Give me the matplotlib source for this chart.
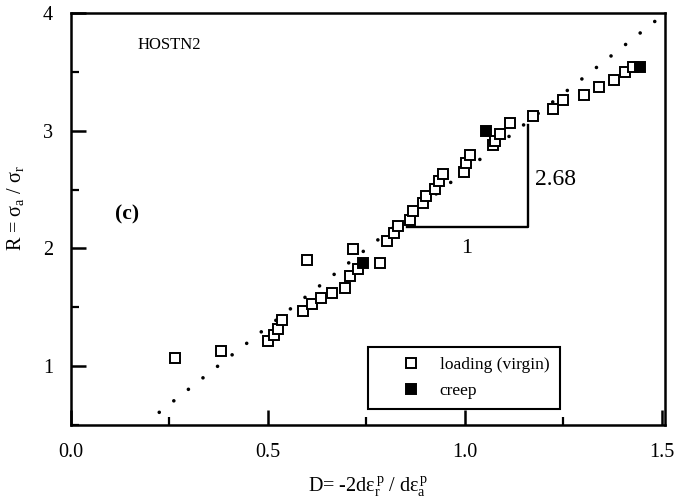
import matplotlib.pyplot as plt
from matplotlib.lines import Line2D
from matplotlib.ticker import MultipleLocator

plt.rcParams['font.family'] = ['Liberation Serif', 'DejaVu Serif']
plt.rcParams['mathtext.fontset'] = 'stix'

# loading (virgin) points: D, R
load_d = [0.264, 0.381, 0.501, 0.515, 0.525, 0.535, 0.589, 0.611, 0.600, 0.634,
          0.663, 0.695, 0.708, 0.729, 0.717, 0.784, 0.801, 0.821, 0.829, 0.860,
          0.869, 0.893, 0.901, 0.924, 0.935, 0.945, 0.997, 1.003, 1.013, 1.072,
          1.076, 1.089, 1.114, 1.173, 1.224, 1.250, 1.303, 1.341, 1.379, 1.406,
          1.426]
load_r = [1.073, 1.132, 1.216, 1.261, 1.320, 1.394, 1.467, 1.526, 1.904, 1.583,
          1.622, 1.667, 1.766, 1.828, 1.997, 1.878, 2.067, 2.132, 2.194, 2.244,
          2.315, 2.383, 2.447, 2.504, 2.574, 2.636, 2.653, 2.729, 2.791, 2.876,
          2.912, 2.969, 3.062, 3.123, 3.186, 3.259, 3.307, 3.372, 3.434, 3.499,
          3.538]

# creep points
creep_d = [0.742, 1.053, 1.444]
creep_r = [1.878, 2.997, 3.538]

# fitted line (slope 2.68) end points
fit_d = [0.224, 1.486]
fit_r = [0.608, 3.94]

# slope triangle
tri_d = [0.852, 1.161, 1.161]
tri_r = [2.185, 2.185, 3.053]

fig = plt.figure(figsize=(6.78, 5.03), dpi=100)
ax = fig.add_axes([0.1047, 0.155, 0.8763, 0.819])

ax.plot(fit_d, fit_r, color='black', lw=2.6, linestyle=(0, (0.01, 5.13)),
        dash_capstyle='round')
ax.plot(load_d, load_r, 's', ms=6.5, mfc='white', mec='black', mew=1.4,
        linestyle='none')
ax.plot(creep_d, creep_r, 's', ms=6.5, mfc='black', mec='black', mew=1.4,
        linestyle='none')
ax.plot(tri_d, tri_r, color='black', lw=1.7)

ax.text(1.178, 2.585, '2.68', fontsize=17, va='center', ha='left')
ax.text(1.005, 2.0, '1', fontsize=16, va='center', ha='center')
ax.text(0.112, 2.29, '(c)', fontsize=15.5, fontweight='bold', va='center')
ax.text(0.168, 3.73, 'HOSTN2', fontsize=12, va='center')

ax.set_xlim(0, 1.508)
ax.set_ylim(0.5, 4)
ax.xaxis.set_minor_locator(MultipleLocator(0.25))
ax.yaxis.set_minor_locator(MultipleLocator(0.5))
ax.set_xticks([0, 0.5, 1.0, 1.5])
ax.set_xticklabels(['0.0', '0.5', '1.0', '1.5'])
ax.set_yticks([1, 2, 3, 4])
ax.set_yticklabels(['1', '2', '3', '4'])
ax.tick_params(which='major', direction='in', length=11, width=1.8,
               labelsize=14.5, pad=13)
ax.tick_params(which='minor', direction='in', length=6, width=1.6)
ax.tick_params(top=False, right=False, which='both')
for s in ax.spines.values():
    s.set_linewidth(1.8)

ax.set_xlabel(r'D= -2dε$\mathregular{_r^{\,p}}$ / dε$\mathregular{_a^{\,p}}$',
              fontsize=14.5, labelpad=9)
ax.set_ylabel(r'R = σ$\mathregular{_a}$ / σ$\mathregular{_r}$', fontsize=14.5)
ax.yaxis.set_label_coords(-0.075, 0.527)

handles = [Line2D([], [], marker='s', ms=6.5, mfc='white', mec='black',
                  mew=1.4, linestyle='none'),
           Line2D([], [], marker='s', ms=6.5, mfc='black', mec='black',
                  mew=1.4, linestyle='none')]
leg = ax.legend(handles, ['loading (virgin)', 'creep'], loc='lower left',
                bbox_to_anchor=(0.4995, 0.038), borderaxespad=0, fontsize=12.5,
                fancybox=False, edgecolor='black', framealpha=1,
                handletextpad=-0.2, borderpad=0.6, labelspacing=0.55,
                handlelength=3.74)
leg.get_frame().set_linewidth(1.5)

fig.savefig('out.png', dpi=100)
